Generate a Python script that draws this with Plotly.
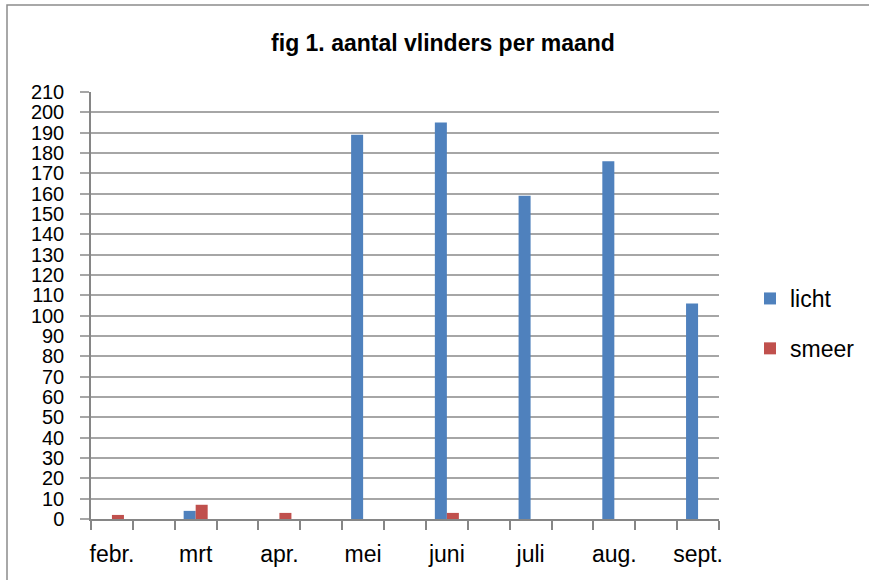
import plotly.graph_objects as go

months = ["febr.", "mrt", "apr.", "mei", "juni", "juli", "aug.", "sept."]
licht = [0, 4, 0, 189, 195, 159, 176, 106]
smeer = [2, 7, 3, 0, 3, 0, 0, 0]
yticks = list(range(0, 211, 10))

# each month sits on every second half-month slot of the category axis
xpos = [2 * i for i in range(len(months))]

W, H = 869, 580
L, R, T, B = 91, 150, 92, 61
pw, ph = W - L - R, H - T - B

def px_x(p):
    return (p - L) / pw

def px_y(p):
    return (H - B - p) / ph

fig = go.Figure()
fig.add_trace(go.Bar(x=xpos, y=licht, name="licht", marker=dict(color="#4F81BD", line=dict(width=0)),
                     legendgroup="a"))
fig.add_trace(go.Bar(x=xpos, y=smeer, name="smeer", marker=dict(color="#C0504D", line=dict(width=0)),
                     legendgroup="b"))

fig.update_layout(
    width=W, height=H,
    margin=dict(l=L, r=R, t=T, b=B, autoexpand=False),
    paper_bgcolor="white", plot_bgcolor="white",
    barmode="group", bargap=0.713, bargroupgap=0,
    title=dict(text="<b>fig 1. aantal vlinders per maand</b>", xref="container", x=443 / W, xanchor="center",
               yref="container", y=1 - 43 / H, yanchor="middle",
               font=dict(family="Liberation Sans, Arial", size=23, color="#000000")),
    font=dict(family="Liberation Sans, Arial", color="#000000"),
    legend=dict(x=px_x(750), y=px_y(277), xanchor="left", yanchor="top",
                font=dict(size=23, color="#000000"), tracegroupgap=17,
                bgcolor="rgba(0,0,0,0)"),
    shapes=[dict(type="rect", xref="paper", yref="paper",
                 x0=px_x(7), x1=px_x(900), y0=px_y(600), y1=px_y(5),
                 line=dict(color="#8C8C8C", width=1.5), fillcolor="rgba(0,0,0,0)", layer="below")],
)

fig.update_xaxes(
    range=[-0.5, 14.5],
    tickmode="array", tickvals=xpos, ticktext=months, tickangle=0,
    ticks="", showgrid=False, automargin=False,
    showline=True, linecolor="#868686", linewidth=1.5,
    tickfont=dict(size=23, color="#000000"),
    ticklabelstandoff=14,
    minor=dict(tickmode="linear", tick0=-0.5, dtick=1, ticks="outside", ticklen=9,
               tickcolor="#868686", tickwidth=1.5, showgrid=False),
    zeroline=False,
)
fig.update_yaxes(
    range=[0, 210],
    tickmode="array", tickvals=yticks, automargin=False,
    ticks="outside", ticklen=9, tickcolor="#A6A6A6", tickwidth=1.5,
    showgrid=True, gridcolor="#A6A6A6", gridwidth=1.5,
    showline=True, linecolor="#868686", linewidth=1.5,
    tickfont=dict(size=20, color="#000000"),
    ticklabelstandoff=12,
    zeroline=False,
)

fig.write_html("out.html", config={"displayModeBar": False},
               post_script="document.body.style.margin='0';")
